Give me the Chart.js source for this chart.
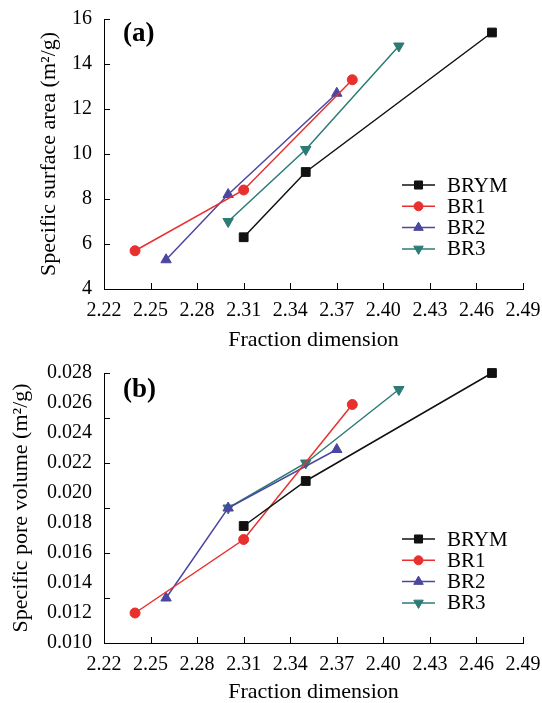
<!DOCTYPE html>
<html>
<head>
<meta charset="utf-8">
<script src="https://cdn.jsdelivr.net/npm/chart.js@4.4.1/dist/chart.umd.min.js"></script>
<style>
  html, body { margin: 0; padding: 0; background: #fff; }
  #wrap { position: relative; width: 542px; height: 703px; }
  canvas { position: absolute; left: 0; }
</style>
</head>
<body>
<div id="wrap">
  <canvas id="surfaceChart" width="542" height="352" style="top:0"></canvas>
  <canvas id="poreChart" width="542" height="351" style="top:352px"></canvas>
</div>
<script>
// Fraction dimension of each sample
const dimBRYM = [2.31, 2.35, 2.47];
const dimBR1 = [2.24, 2.31, 2.38];
const dimBR2 = [2.26, 2.30, 2.37];
const dimBR3 = [2.30, 2.35, 2.41];

// Specific surface area (m2/g)
const areaBRYM = [6.3, 9.2, 15.4];
const areaBR1 = [5.7, 8.4, 13.3];
const areaBR2 = [5.3, 8.2, 12.7];
const areaBR3 = [7.0, 10.2, 14.8];

// Specific pore volume
const poreBRYM = [0.0178, 0.0208, 0.0280];
const poreBR1 = [0.0120, 0.0169, 0.0259];
const poreBR2 = [0.0130, 0.0190, 0.0229];
const poreBR3 = [0.0190, 0.0220, 0.0269];

// Ticks
const dimTicks = [2.22, 2.25, 2.28, 2.31, 2.34, 2.37, 2.40, 2.43, 2.46, 2.49];
const areaTicks = [4, 6, 8, 10, 12, 14, 16];
const poreTicks = [0.010, 0.012, 0.014, 0.016, 0.018, 0.020, 0.022, 0.024, 0.026, 0.028];
const poreTickMarks = [0.010, 0.013, 0.016, 0.019, 0.022, 0.025, 0.028];

const samples = ['BRYM', 'BR1', 'BR2', 'BR3'];
const colors = ['#111111', '#e8302e', '#4b479f', '#2c7b75'];
const markers = ['rect', 'circle', 'triangle', 'triangle'];
const rotations = [0, 0, 0, 180];
const radii = [6.2, 5, 6, 6];

const serif = '"Liberation Serif", "Times New Roman", serif';

function makeDatasets(dims, values) {
  return samples.map((name, i) => ({
    label: name,
    data: dims[i].map((d, j) => ({ x: d, y: values[i][j] })),
    borderColor: colors[i],
    backgroundColor: colors[i],
    borderWidth: 1.5,
    pointStyle: markers[i],
    pointRotation: rotations[i],
    pointRadius: radii[i],
    pointHoverRadius: radii[i],
    pointBorderWidth: 1,
    tension: 0,
    clip: false
  }));
}

// inward tick marks, panel letter and legend
const frame = {
  id: 'frame',
  afterDatasetsDraw(chart, args, opts) {
    const ctx = chart.ctx;
    const area = chart.chartArea;
    const xs = chart.scales.x;
    const ys = chart.scales.y;
    ctx.save();
    ctx.strokeStyle = '#000';
    ctx.lineWidth = 1;
    ctx.beginPath();
    dimTicks.forEach(v => {
      const px = Math.round(xs.getPixelForValue(v)) + 0.5;
      ctx.moveTo(px, area.bottom);
      ctx.lineTo(px, area.bottom - 6);
    });
    opts.yMarks.forEach(v => {
      const py = Math.round(ys.getPixelForValue(v)) + 0.5;
      ctx.moveTo(area.left, py);
      ctx.lineTo(area.left + 6, py);
    });
    ctx.stroke();

    ctx.fillStyle = '#000';
    ctx.textBaseline = 'middle';
    ctx.font = 'bold 27px ' + serif;
    ctx.fillText(opts.letter, area.left + 19, area.top + opts.letterY);

    // legend
    chart.data.datasets.forEach((ds, i) => {
      const y = area.top + 166 + i * 21.3;
      const x0 = area.left + 298;
      ctx.strokeStyle = ds.borderColor;
      ctx.fillStyle = ds.backgroundColor;
      ctx.lineWidth = 1.5;
      ctx.beginPath();
      ctx.moveTo(x0, y);
      ctx.lineTo(x0 + 33, y);
      ctx.stroke();
      ctx.lineWidth = 1;
      Chart.helpers.drawPoint(ctx, {
        pointStyle: ds.pointStyle,
        rotation: ds.pointRotation,
        radius: ds.pointRadius - 0.5,
        borderWidth: 1
      }, x0 + 16.5, y);
      ctx.fillStyle = '#000';
      ctx.font = '21px ' + serif;
      ctx.fillText(ds.label, x0 + 45, y + 1);
    });
    ctx.restore();
  }
};

function xScale(height, titlePad) {
  return {
    type: 'linear',
    min: 2.22,
    max: 2.49,
    afterBuildTicks: s => { s.ticks = dimTicks.map(v => ({ value: v })); },
    afterFit: s => {
      s.height = height;
      s.paddingLeft = 0;
      s.paddingRight = 0;
    },
    grid: { display: false, drawTicks: false },
    border: { display: true, color: '#000', width: 1 },
    ticks: {
      color: '#000',
      font: { family: serif, size: 20 },
      padding: 10,
      maxRotation: 0,
      autoSkip: false,
      callback: v => v.toFixed(2)
    },
    title: {
      display: true,
      text: 'Fraction dimension',
      color: '#000',
      font: { family: serif, size: 22, lineHeight: 1 },
      padding: { top: 0, bottom: titlePad }
    }
  };
}

function yScale(min, max, ticks, digits, title, titlePad) {
  return {
    type: 'linear',
    min: min,
    max: max,
    afterBuildTicks: s => { s.ticks = ticks.map(v => ({ value: v })); },
    afterFit: s => {
      s.width = 104;
      s.paddingTop = 0;
      s.paddingBottom = 0;
    },
    grid: { display: false, drawTicks: false },
    border: { display: true, color: '#000', width: 1 },
    ticks: {
      color: '#000',
      font: { family: serif, size: 20 },
      padding: 12,
      autoSkip: false,
      callback: v => v.toFixed(digits)
    },
    title: {
      display: true,
      text: title,
      color: '#000',
      font: { family: serif, size: 22, lineHeight: 1 },
      padding: { top: titlePad, bottom: 0 }
    }
  };
}

function baseOptions(padTop, x, y, frameOpts) {
  return {
    responsive: false,
    animation: false,
    layout: { padding: { top: padTop, right: 19, left: 0, bottom: 0 } },
    plugins: {
      legend: { display: false },
      tooltip: { enabled: false },
      frame: frameOpts
    },
    scales: { x: x, y: y }
  };
}

// (a) surface area
new Chart(document.getElementById('surfaceChart'), {
  type: 'line',
  data: { datasets: makeDatasets([dimBRYM, dimBR1, dimBR2, dimBR3], [areaBRYM, areaBR1, areaBR2, areaBR3]) },
  options: baseOptions(19,
    xScale(63, 1),
    yScale(4, 16, areaTicks, 0, 'Specific surface area (m\u00B2/g)', 38),
    { letter: '(a)', letterY: 15, yMarks: areaTicks }),
  plugins: [frame]
});

// (b) pore volume
new Chart(document.getElementById('poreChart'), {
  type: 'line',
  data: { datasets: makeDatasets([dimBRYM, dimBR1, dimBR2, dimBR3], [poreBRYM, poreBR1, poreBR2, poreBR3]) },
  options: baseOptions(21,
    xScale(60, 0),
    yScale(0.010, 0.028, poreTicks, 3, 'Specific pore volume (m\u00B2/g)', 10),
    { letter: '(b)', letterY: 17, yMarks: poreTickMarks }),
  plugins: [frame]
});
</script>
</body>
</html>
